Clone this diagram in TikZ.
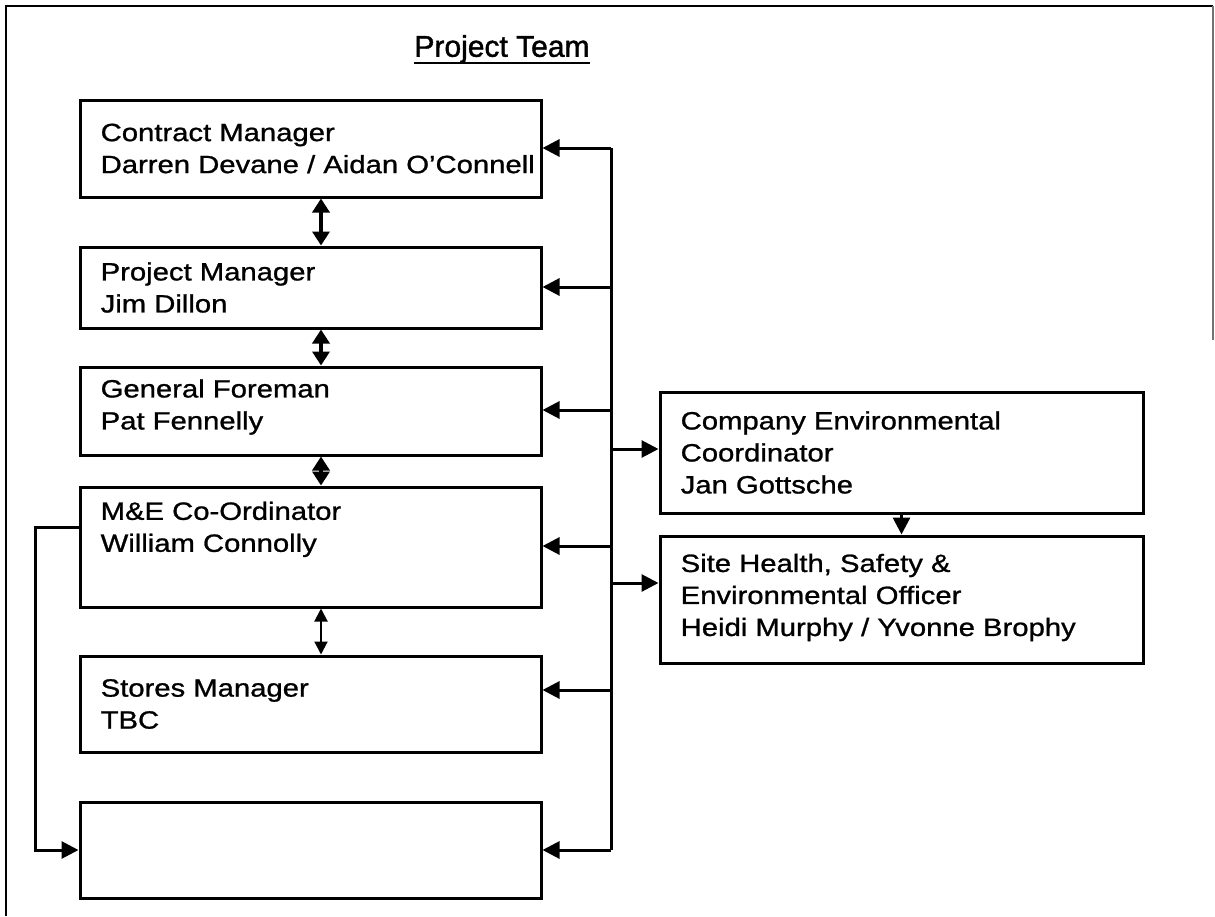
\documentclass[tikz,border=0pt]{standalone}
\usepackage{fontspec}
\setmainfont{Liberation Sans}[FakeStretch=1.17,FakeBold=1]
\newfontfamily\titlefont{Liberation Sans}[FakeBold=1.4]
\usetikzlibrary{arrows.meta}

\tikzset{
  leftpost/.style={draw, line width=3pt, minimum width=461pt},
  rightpost/.style={draw, line width=3pt, minimum width=483pt},
  who/.style={inner sep=0pt, align=left, font=\fontsize{25}{32}\selectfont},
  feed/.style={line width=3pt, -{Triangle[length=17pt,width=17pt]}},
  link/.style={line width=3.5pt, {Triangle[length=14pt,width=17pt]}-{Triangle[length=14pt,width=17pt]}},
  thinlink/.style={line width=2pt, {Triangle[length=13pt,width=13pt]}-{Triangle[length=13pt,width=13pt]}},
}

\begin{document}
\begin{tikzpicture}[x=1pt,y=-1pt]
      \useasboundingbox (0,0) rectangle (1215,916);
      % page frame
      \draw[line width=2.5pt] (6,916) -- (6,6) -- (1213,6);
      \draw[line width=1.5pt, black!55] (1213,6) -- (1213,340);

      \node[font=\titlefont\fontsize{30}{36}\selectfont, inner sep=0pt] (title) at (502,49) {Project Team};
      \draw[line width=2.5pt] ([yshift=-6pt]title.base west) -- ([yshift=-6pt]title.base east);

      % left column
      \node[leftpost, minimum height=97pt] (cm) at (310.5,148.5) {};
      \node[leftpost, minimum height=81pt] (pm) at (310.5,287.5) {};
      \node[leftpost, minimum height=88pt] (gf) at (310.5,411) {};
      \node[leftpost, minimum height=120pt] (me) at (310.5,547) {};
      \node[leftpost, minimum height=96pt] (sm) at (310.5,704) {};
      \node[leftpost, minimum height=96pt] (tbd) at (310.5,850) {};

      \node[who, anchor=west] (cm-t) at ([xshift=22pt]cm.west) {Contract Manager\\Darren Devane / Aidan O'Connell};
      \node[who, anchor=west] (pm-t) at ([xshift=22pt]pm.west) {Project Manager\\Jim Dillon};
      \node[who, anchor=west] (gf-t) at ([xshift=22pt,yshift=4pt]gf.west) {General Foreman\\Pat Fennelly};
      \node[who, anchor=north west] (me-t) at ([xshift=22pt,yshift=-16pt]me.north west) {M\&E Co-Ordinator\\William Connolly};
      \node[who, anchor=west] (sm-t) at ([xshift=22pt]sm.west) {Stores Manager\\TBC};

      % right column
      \node[rightpost, minimum height=121pt] (ce) at (901.5,452.5) {};
      \node[rightpost, minimum height=127pt] (shs) at (901.5,599.5) {};
      \node[who, anchor=west] (ce-t) at ([xshift=22pt]ce.west) {Company Environmental\\Coordinator\\Jan Gottsche};
      \node[who, anchor=west] (shs-t) at ([xshift=22pt,yshift=2pt]shs.west) {Site Health, Safety \&\\Environmental Officer\\Heidi Murphy / Yvonne Brophy};

      % reporting line
      \coordinate (bus1) at (611,148);
      \coordinate (bus2) at (611,287);
      \coordinate (bus3) at (611,410);
      \coordinate (bus4) at (611,449);
      \coordinate (bus5) at (611,546);
      \coordinate (bus6) at (611,583);
      \coordinate (bus7) at (611,690);
      \coordinate (bus8) at (611,850);
      \draw[line width=3pt] (bus1) -- (bus8);
      \draw[feed] (bus1) -- (cm.east |- bus1);
      \draw[feed] (bus2) -- (pm.east |- bus2);
      \draw[feed] (bus3) -- (gf.east |- bus3);
      \draw[feed] (bus5) -- (me.east |- bus5);
      \draw[feed] (bus7) -- (sm.east |- bus7);
      \draw[feed] (bus8) -- (tbd.east |- bus8);
      \draw[feed] (bus4) -- (ce.west |- bus4);
      \draw[feed] (bus6) -- (shs.west |- bus6);
      \draw[feed] (ce.south) -- (shs.north);

      % chain of command
      \draw[link] ([xshift=10.5pt]cm.south) -- ([xshift=10.5pt]pm.north);
      \draw[link] ([xshift=10.5pt]pm.south) -- ([xshift=10.5pt]gf.north);
      \draw[link] ([xshift=10.5pt]gf.south) -- ([xshift=10.5pt]me.north);
      \draw[thinlink] ([xshift=10.5pt]me.south) -- ([xshift=10.5pt]sm.north);

      % loop round to the empty box
      \coordinate (loop) at (35,527);
      \draw[feed] ([yshift=20pt]me.west) -- (loop) |- (tbd.west);
    \end{tikzpicture}
\end{document}
